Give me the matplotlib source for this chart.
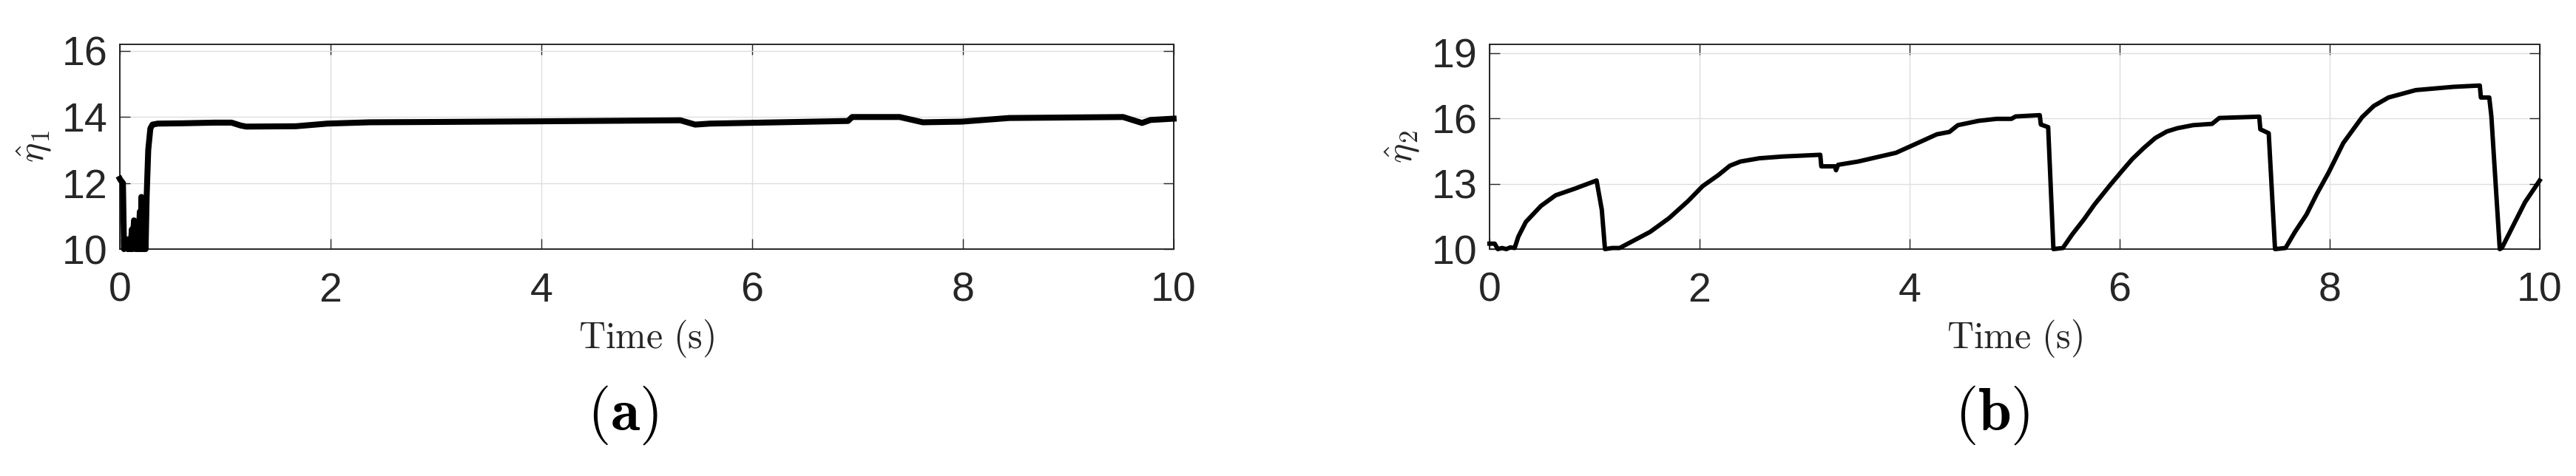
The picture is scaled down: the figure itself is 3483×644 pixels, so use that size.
import numpy as np
import matplotlib.pyplot as plt

# ---- data ----
# (a) eta_1 estimate
t1 = [0, 0.005, 0.03, 0.04, 0.06, 0.075, 0.09, 0.10, 0.115, 0.12, 0.135, 0.15,
      0.16, 0.175, 0.19, 0.197, 0.205, 0.22, 0.23, 0.245, 0.255, 0.27, 0.29,
      0.31, 0.36, 0.6, 0.9, 1.06, 1.15, 1.2, 1.67, 1.97, 2.37, 3.0, 4.0, 5.32,
      5.46, 5.6, 6.91, 6.95, 7.40, 7.62, 7.99, 8.44, 9.52, 9.70, 9.78, 10]
eta1 = [12.13, 12.1, 12.0, 10.0, 10.3, 10.0, 10.3, 10.0, 10.6, 10.0, 10.87, 10.0,
        10.6, 10.0, 11.13, 10.0, 11.58, 10.0, 11.3, 10.0, 11.6, 13.0, 13.65,
        13.77, 13.8, 13.81, 13.83, 13.83, 13.74, 13.71, 13.72, 13.80, 13.84, 13.85, 13.87, 13.9,
        13.77, 13.8, 13.88, 14.0, 14.0, 13.84, 13.86, 13.97, 14.0, 13.82, 13.91, 13.95]

# (b) eta_2 estimate
t2 = [0, 0.05, 0.08, 0.12, 0.16, 0.2, 0.24, 0.275, 0.347, 0.49, 0.63, 0.81, 1.02,
      1.07, 1.10, 1.17, 1.24, 1.53, 1.71, 1.89, 2.03, 2.18, 2.29, 2.39, 2.57, 2.79,
      3.15, 3.16, 3.29, 3.30, 3.32, 3.51, 3.87, 4.05, 4.26, 4.38, 4.46, 4.66,
      4.83, 4.97, 5.01, 5.24, 5.25, 5.32, 5.37, 5.46, 5.55, 5.66, 5.76, 5.91, 6.02,
      6.12, 6.23, 6.34, 6.45, 6.55, 6.70, 6.88, 6.95, 7.33, 7.34, 7.42, 7.48, 7.58,
      7.67, 7.78, 7.88, 7.99, 8.13, 8.31, 8.42, 8.56, 8.82, 9.18, 9.43, 9.44, 9.52,
      9.54, 9.62, 9.64, 9.86, 10]
eta2 = [10.25, 10.25, 10.0, 10.05, 10.0, 10.08, 10.05, 10.57, 11.25, 11.98, 12.47, 12.77, 13.15,
        11.8, 10.0, 10.05, 10.05, 10.79, 11.42, 12.2, 12.89, 13.4, 13.83, 14.02, 14.17, 14.25,
        14.33, 13.8, 13.8, 13.62, 13.87, 14.02, 14.42, 14.81, 15.27, 15.38, 15.69, 15.89,
        15.98, 15.98, 16.09, 16.15, 15.72, 15.6, 10.0, 10.05, 10.68, 11.36, 12.04, 12.94, 13.57,
        14.13, 14.64, 15.1, 15.4, 15.55, 15.69, 15.75, 16.02, 16.08, 15.5, 15.32, 10.0, 10.05,
        10.79, 11.59, 12.55, 13.51, 14.87, 16.06, 16.57, 16.96, 17.3, 17.45, 17.51, 16.96, 16.96,
        16.1, 10.0, 10.05, 12.15, 13.15]

xticks = [0, 2, 4, 6, 8, 10]
yticks1 = [10, 12, 14, 16]
yticks2 = [10, 13, 16, 19]

plt.rcParams['mathtext.fontset'] = 'cm'
dark = '#262626'

fig = plt.figure(figsize=(34.83, 6.44), dpi=100)

## axes boxes (figure fractions)
ax1 = fig.add_axes([0.0465, 0.4767, 0.4091, 0.4301])
ax2 = fig.add_axes([0.5782, 0.4767, 0.4077, 0.4301])

panels = [(ax1, t1, eta1, yticks1, (10, 16.2), r'$\hat{\eta}_1$', 5.8, -0.063),
          (ax2, t2, eta2, yticks2, (10, 19.4), r'$\hat{\eta}_2$', 4.3, -0.065)]

for ax, t, v, yt, ylim, ylab, lw, lx in panels:
    ax.plot(t, v, color='black', lw=lw, solid_joinstyle='round', zorder=3, clip_on=False)
    ax.set_xlim(0, 10)
    ax.set_ylim(*ylim)
    ax.set_xticks(xticks)
    ax.set_yticks(yt)
    ax.grid(True, color='#dedede', lw=1.0)
    ax.set_axisbelow(True)
    for s in ax.spines.values():
        s.set_color(dark)
        s.set_linewidth(1.4)
    ax.tick_params(direction='in', length=10, width=1.0, color=dark,
                   labelsize=40, labelcolor=dark, top=True, right=True)
    ax.tick_params(axis='x', pad=22)
    ax.tick_params(axis='y', pad=12)
    for lab in ax.get_xticklabels() + ax.get_yticklabels():
        lab.set_fontfamily('Liberation Sans')
    ax.set_xlabel(r'$\mathrm{Time\ (s)}$', fontsize=36, color=dark)
    ax.xaxis.set_label_coords(0.5, -0.335)
    ax.set_ylabel(ylab, fontsize=36, color=dark)
    ax.yaxis.set_label_coords(lx, 0.5)

fig.text(0.2417, 0.1273, r'$(\mathbf{a})$', fontsize=58, ha='center', va='center')
fig.text(0.7735, 0.1273, r'$(\mathbf{b})$', fontsize=58, ha='center', va='center')

fig.savefig('out.png', dpi=100, facecolor='white')
